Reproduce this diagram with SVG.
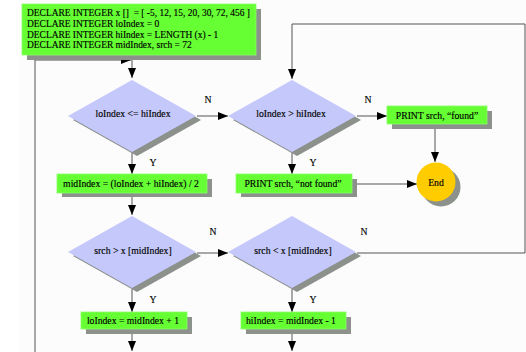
<svg xmlns="http://www.w3.org/2000/svg" width="526" height="352" viewBox="0 0 526 352">
<style>
text{font-family:"Liberation Serif","Times New Roman",serif;font-size:9.7px;fill:#000;stroke:#000;stroke-width:0.15}
#declare text{font-size:9.45px}
.box{fill:#66ff33;stroke:#88ff66;stroke-width:0.8}
.sh{fill:#8c918c}
.dia{fill:#c5c8fa}
.c{text-anchor:middle;dominant-baseline:central}
.ln{fill:none;stroke:#555;stroke-width:1}
</style>
<defs>
<marker id="a" viewBox="0 0 10 8" refX="10" refY="4" markerWidth="10" markerHeight="8" markerUnits="userSpaceOnUse" orient="auto">
<path d="M0,0 L10,4 L0,8 Z" fill="#000"/>
</marker>
</defs>
<rect x="19" y="0" width="507" height="352" fill="#fcfcfc"/>
<g id="connectors">
<path class="ln" d="M35,352 V60 H131" marker-end="url(#a)"/>
<path class="ln" d="M132,55 V78" marker-end="url(#a)"/>
<path class="ln" d="M197,116 H228" marker-end="url(#a)"/>
<path class="ln" d="M357,116 H387" marker-end="url(#a)"/>
<path class="ln" d="M435,124 V162" marker-end="url(#a)"/>
<path class="ln" d="M132,152 V174" marker-end="url(#a)"/>
<path class="ln" d="M292,152 V174" marker-end="url(#a)"/>
<path class="ln" d="M352,184 H417" marker-end="url(#a)"/>
<path class="ln" d="M132,193 V215" marker-end="url(#a)"/>
<path class="ln" d="M197,253 H228" marker-end="url(#a)"/>
<path class="ln" d="M357,253 H525 V24 H292 V79" marker-end="url(#a)"/>
<path class="ln" d="M132,289 V312" marker-end="url(#a)"/>
<path class="ln" d="M292,289 V312" marker-end="url(#a)"/>
<path class="ln" d="M132,329 V351" marker-end="url(#a)"/>
<path class="ln" d="M292,329 V351" marker-end="url(#a)"/>
<text x="208" y="99" class="c">N</text>
<text x="368" y="99" class="c">N</text>
<text x="153" y="162" class="c">Y</text>
<text x="313" y="162" class="c">Y</text>
<text x="213" y="231" class="c">N</text>
<text x="364" y="231" class="c">N</text>
<text x="153" y="299" class="c">Y</text>
<text x="313" y="299" class="c">Y</text>
</g>
<g id="declare">
<rect class="sh" x="27" y="9" width="234" height="51"/>
<rect class="box" x="22" y="4" width="234" height="51"/>
<text x="27" y="16">DECLARE INTEGER x []&#160; = [ -5, 12, 15, 20, 30, 72, 456 ]</text>
<text x="27" y="27">DECLARE INTEGER loIndex = 0</text>
<text x="27" y="37.5">DECLARE INTEGER hiIndex = LENGTH (x) - 1</text>
<text x="27" y="48">DECLARE INTEGER midIndex, srch = 72</text>
</g>
<g id="cond1">
<path class="sh" d="M137,84 L201,120 L137,156 L73,120 Z"/>
<path class="dia" d="M132,80 L196,116 L132,152 L68,116 Z"/>
<text x="133" y="113" class="c">loIndex &lt;= hiIndex</text>
</g>
<g id="cond2">
<path class="sh" d="M297,84 L361,120 L297,156 L233,120 Z"/>
<path class="dia" d="M292,80 L356,116 L292,152 L228,116 Z"/>
<text x="291" y="113" class="c">loIndex &gt; hiIndex</text>
</g>
<g id="found">
<rect class="sh" x="392" y="111" width="100" height="18"/>
<rect class="box" x="387" y="106" width="100" height="18"/>
<text x="437" y="115" class="c">PRINT srch, “found”</text>
</g>
<g id="end">
<circle class="sh" cx="441" cy="187" r="19.5"/>
<circle cx="436" cy="182" r="19.5" fill="#ffcc00"/>
<text x="436" y="182" class="c">End</text>
</g>
<g id="mid">
<rect class="sh" x="62" y="179" width="150" height="18"/>
<rect class="box" x="57" y="174" width="150" height="19"/>
<text x="131" y="183.5" class="c">midIndex = (loIndex + hiIndex) / 2</text>
</g>
<g id="notfound">
<rect class="sh" x="241" y="179" width="116" height="18"/>
<rect class="box" x="236" y="174" width="116" height="19"/>
<text x="293" y="183.5" class="c">PRINT srch, “not found”</text>
</g>
<g id="cond3">
<path class="sh" d="M137,220 L201,256 L137,292 L73,256 Z"/>
<path class="dia" d="M132,216 L196,252 L132,288 L68,252 Z"/>
<text x="133" y="250" class="c">srch &gt; x [midIndex]</text>
</g>
<g id="cond4">
<path class="sh" d="M297,220 L361,256 L297,292 L233,256 Z"/>
<path class="dia" d="M292,216 L356,252 L292,288 L228,252 Z"/>
<text x="293" y="250" class="c">srch &lt; x [midIndex]</text>
</g>
<g id="lo">
<rect class="sh" x="86" y="317" width="106" height="17"/>
<rect class="box" x="81" y="312" width="106" height="17"/>
<text x="133" y="320.5" class="c">loIndex = midIndex + 1</text>
</g>
<g id="hi">
<rect class="sh" x="246" y="317" width="105" height="17"/>
<rect class="box" x="241" y="312" width="105" height="17"/>
<text x="291" y="320.5" class="c">hiIndex = midIndex - 1</text>
</g>
</svg>
